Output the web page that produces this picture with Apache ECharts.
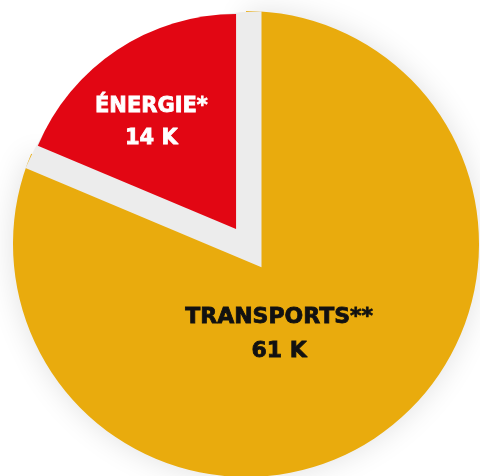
<!DOCTYPE html>
<html>
<head>
<meta charset="utf-8">
<script src="https://cdn.jsdelivr.net/npm/echarts@6/dist/echarts.min.js"></script>
<style>
html, body { margin: 0; padding: 0; background: #fff; }
#chart { width: 480px; height: 476px; }
</style>
</head>
<body>
<div id="chart"></div>
<script>
// valeurs en milliers
const categories = ["ÉNERGIE*", "TRANSPORTS**"];
const values = [14, 61];
const sliceColors = ["#e20613", "#e9ab0d"];
const gapColor = "#ececec";
const none = "rgba(0,0,0,0)";

const chart = echarts.init(document.getElementById("chart"));

// an empty last line lifts the two text lines above the default anchor
const labelText = (p) => "{t|" + p.name + "}\n{t|" + p.value + " K}\n{s| }";

function sliceLabel(color, size, lh, spacer, rightPad) {
  return {
    show: true,
    position: "inside",
    formatter: labelText,
    padding: [0, rightPad, 0, 0],
    rich: {
      t: {
        color: color, fontFamily: "DejaVu Sans", fontWeight: "bold",
        fontSize: size, lineHeight: lh,
        textBorderColor: color, textBorderWidth: 0.8
      },
      s: { fontSize: 1, lineHeight: spacer }
    }
  };
}

// yellow disc (transports), energy left empty
const baseData = categories.map((name, i) => ({
  name: name,
  value: values[i],
  itemStyle: i === 1
    ? { color: sliceColors[1], shadowBlur: 30, shadowColor: "rgba(0,0,0,0.12)" }
    : { color: none },
  label: i === 1 ? sliceLabel("#111", 22, 34, 18, 66) : { show: false }
}));

// light gray wedge pushed back behind the energy slice
const gapData = categories.map((name, i) => ({
  name: name,
  value: values[i],
  selected: i === 0,
  itemStyle: { color: i === 0 ? gapColor : none },
  label: { show: false }
}));

// red energy slice pulled out
const energyData = categories.map((name, i) => ({
  name: name,
  value: values[i],
  selected: i === 0,
  itemStyle: { color: i === 0 ? sliceColors[0] : none },
  label: i === 0 ? sliceLabel("#fff", 21, 32, 29, 47) : { show: false }
}));

const common = {
  type: "pie",
  center: [246, 244],
  startAngle: 90,
  clockwise: false,
  silent: true,
  animation: false,
  labelLine: { show: false },
  emphasis: { disabled: true }
};

chart.setOption({
  backgroundColor: "#fff",
  series: [
    Object.assign({}, common, { name: "base", radius: 233, data: baseData }),
    Object.assign({}, common, {
      name: "gap", radius: 256, selectedMode: "single", selectedOffset: -28, data: gapData
    }),
    Object.assign({}, common, {
      name: "energie", radius: 215, selectedMode: "single", selectedOffset: 18, data: energyData
    })
  ]
});
</script>
</body>
</html>
